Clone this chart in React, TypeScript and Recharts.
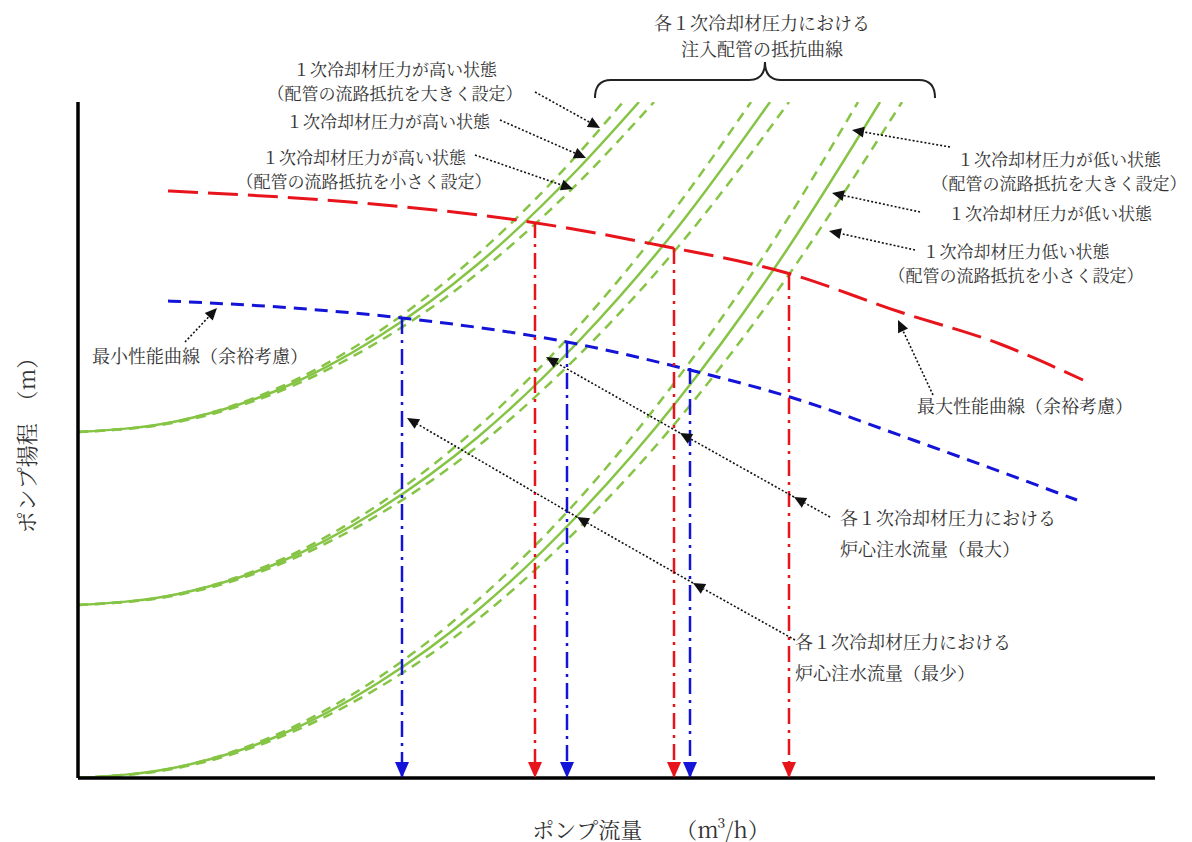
import React from 'react';
import { ComposedChart, Line, XAxis, YAxis, ReferenceLine, ReferenceDot } from 'recharts';

// schematic chart: flow (m3/h) and head (m) in arbitrary units, no tick values

// 注入配管の抵抗曲線 : 1次冷却材圧力が高い状態
const highQ = [0, 100, 200, 300, 400, 500];
const highMid = [346, 357, 388, 441, 514, 609];
const highBig = [346, 357, 390, 446, 524, 624];
const highSmall = [346, 356, 386, 436, 505, 595];
const highEnds = [561, 545, 576]; // mid, big, small reach top of chart

// middle pressure
const midQ = [0, 100, 200, 300, 400, 500, 600];
const midMid = [173, 184, 215, 268, 341, 436, 551];
const midBig = [173, 184, 217, 273, 351, 451, 573];
const midSmall = [173, 183, 213, 263, 332, 422, 531];
const midEnds = [692, 673, 711];

// 1次冷却材圧力が低い状態
const lowQ = [0, 100, 200, 300, 400, 500, 600, 700];
const lowMid = [0, 11, 42, 95, 168, 263, 378, 515];
const lowBig = [0, 11, 44, 100, 178, 278, 400, 544];
const lowSmall = [0, 10, 40, 90, 159, 249, 358, 488];
const lowEnds = [802, 780, 824];
const topHead = 676;
const maxFlowAxis = 1077;

// 最大性能曲線 / 最小性能曲線
const maxQ = [90, 272, 439, 585, 709, 822, 922, 1005];
const maxH = [587, 576, 558, 532, 505, 466, 434, 398];
const minQ = [90, 215, 324, 489, 612, 712, 835, 999];
const minH = [477, 470, 460, 436, 408, 381, 338, 278];

// 炉心注水流量 (最大 = red, 最少 = blue)
const maxFlowQ = [457, 596, 711];
const maxFlowTop = [556, 530, 504];
const minFlowQ = [324, 489, 612];
const minFlowTop = [460, 436, 410];

const titleLines = ['各１次冷却材圧力における', '注入配管の抵抗曲線'];
const highBigText = ['１次冷却材圧力が高い状態', '（配管の流路抵抗を大きく設定）'];
const highMidText = ['１次冷却材圧力が高い状態'];
const highSmallText = ['１次冷却材圧力が高い状態', '（配管の流路抵抗を小さく設定）'];
const lowBigText = ['１次冷却材圧力が低い状態', '（配管の流路抵抗を大きく設定）'];
const lowMidText = ['１次冷却材圧力が低い状態'];
const lowSmallText = ['１次冷却材圧力低い状態', '（配管の流路抵抗を小さく設定）'];
const minCurveText = ['最小性能曲線（余裕考慮）'];
const maxCurveText = ['最大性能曲線（余裕考慮）'];
const maxFlowText = ['各１次冷却材圧力における', '炉心注水流量（最大）'];
const minFlowText = ['各１次冷却材圧力における', '炉心注水流量（最少）'];
const xLabel = 'ポンプ流量　　（m³/h）';
const yLabel = 'ポンプ揚程　（m）';

const GREEN = '#86c445';
const RED = '#e8141c';
const BLUE = '#1414d8';
const FONT = "'Noto Serif CJK JP', 'Noto Sans CJK JP', sans-serif";

const zip = (qs: number[], hs: number[], endQ?: number) => {
  const rows = qs.map((q, i) => ({ q, h: hs[i] }));
  if (endQ !== undefined) rows.push({ q: endQ, h: topHead });
  return rows;
};

const vertical = (q: number, top: number) => [{ q, h: top }, { q, h: 0 }];

const textShape = (lines: string[], size: number, anchor: string, gap: number) => (p: any) => (
  <g>
    {lines.map((t, i) => (
      <text key={i} x={p.cx} y={p.cy + i * gap} textAnchor={anchor} dominantBaseline="central"
        fontSize={size} fill="#333" fontFamily={FONT}>{t}</text>
    ))}
  </g>
);

const rotatedText = (t: string) => (p: any) => (
  <text x={p.cx} y={p.cy} transform={`rotate(-90, ${p.cx}, ${p.cy})`} textAnchor="middle"
    dominantBaseline="central" fontSize={22} fill="#333" fontFamily={FONT}>{t}</text>
);

const arrowShape = (p: any) => {
  const { x1, y1, x2, y2 } = p;
  const a = Math.atan2(y2 - y1, x2 - x1);
  const bx = x2 - 12 * Math.cos(a);
  const by = y2 - 12 * Math.sin(a);
  const nx = -Math.sin(a) * 5.5;
  const ny = Math.cos(a) * 5.5;
  return (
    <g>
      <line x1={x1} y1={y1} x2={bx} y2={by} stroke="#111" strokeWidth={1.6} strokeDasharray="2 2" />
      <polygon points={`${x2},${y2} ${bx + nx},${by + ny} ${bx - nx},${by - ny}`} fill="#111" />
    </g>
  );
};

const braceShape = (p: any) => {
  const { x1, x2, y1 } = p;
  const m = (x1 + x2) / 2;
  const d = `M${x1},${y1} Q${x1},${y1 - 18} ${x1 + 16},${y1 - 18} L${m - 16},${y1 - 18} Q${m},${y1 - 18} ${m},${y1 - 36} Q${m},${y1 - 18} ${m + 16},${y1 - 18} L${x2 - 16},${y1 - 18} Q${x2},${y1 - 18} ${x2},${y1}`;
  return <path d={d} fill="none" stroke="#222" strokeWidth={2} />;
};

const arrowDot = (color: string) => (p: any) =>
  p.index === 1 ? (
    <polygon key={`d${p.index}`} points={`${p.cx - 7},${p.cy - 16} ${p.cx + 7},${p.cy - 16} ${p.cx},${p.cy}`} fill={color} />
  ) : (
    <g key={`d${p.index}`} />
  );

const note = (q: number, h: number, lines: string[], size = 17, anchor = 'middle', gap = 24) => (
  <ReferenceDot key={`${q}-${h}`} x={q} y={h} r={0} ifOverflow="visible" shape={textShape(lines, size, anchor, gap)} />
);

const arrow = (q1: number, h1: number, q2: number, h2: number) => (
  <ReferenceLine key={`${q1}-${h1}-${q2}`} segment={[{ x: q1, y: h1 }, { x: q2, y: h2 }]} ifOverflow="visible" shape={arrowShape} />
);

export default function App() {
  const greens = [
    { d: zip(highQ, highMid, highEnds[0]), dash: undefined },
    { d: zip(highQ, highBig, highEnds[1]), dash: '10 7' },
    { d: zip(highQ, highSmall, highEnds[2]), dash: '10 7' },
    { d: zip(midQ, midMid, midEnds[0]), dash: undefined },
    { d: zip(midQ, midBig, midEnds[1]), dash: '10 7' },
    { d: zip(midQ, midSmall, midEnds[2]), dash: '10 7' },
    { d: zip(lowQ, lowMid, lowEnds[0]), dash: undefined },
    { d: zip(lowQ, lowBig, lowEnds[1]), dash: '10 7' },
    { d: zip(lowQ, lowSmall, lowEnds[2]), dash: '10 7' },
  ];

  return (
    <div style={{ position: 'absolute', left: 0, top: 0, background: '#fff' }}>
      <ComposedChart width={1192} height={842} margin={{ top: 102, right: 37, bottom: 64, left: 78 }}>
        <XAxis type="number" dataKey="q" domain={[0, maxFlowAxis]} allowDataOverflow height={0}
          tick={false} tickLine={false} axisLine={false} />
        <YAxis type="number" dataKey="h" domain={[0, topHead]} allowDataOverflow width={0}
          tick={false} tickLine={false} axisLine={false} />

        {greens.map((g, i) => (
          <Line key={`g${i}`} data={g.d} dataKey="h" type="monotone" stroke={GREEN} strokeWidth={2.5}
            strokeDasharray={g.dash} dot={false} isAnimationActive={false} />
        ))}

        <Line data={zip(maxQ, maxH)} dataKey="h" type="monotone" stroke={RED} strokeWidth={3}
          strokeDasharray="30 10" dot={false} isAnimationActive={false} />
        <Line data={zip(minQ, minH)} dataKey="h" type="monotone" stroke={BLUE} strokeWidth={3}
          strokeDasharray="13 8" dot={false} isAnimationActive={false} />

        {maxFlowQ.map((q, i) => (
          <Line key={`r${i}`} data={vertical(q, maxFlowTop[i])} dataKey="h" type="linear" stroke={RED}
            strokeWidth={2.5} strokeDasharray="16 6 3 6" dot={arrowDot(RED)} isAnimationActive={false} />
        ))}
        {minFlowQ.map((q, i) => (
          <Line key={`b${i}`} data={vertical(q, minFlowTop[i])} dataKey="h" type="linear" stroke={BLUE}
            strokeWidth={2.5} strokeDasharray="16 6 3 6" dot={arrowDot(BLUE)} isAnimationActive={false} />
        ))}

        {/* axes */}
        <ReferenceLine segment={[{ x: 0, y: 0 }, { x: maxFlowAxis, y: 0 }]} ifOverflow="visible" stroke="#000" strokeWidth={3.5} />
        <ReferenceLine segment={[{ x: 0, y: 0 }, { x: 0, y: topHead }]} ifOverflow="visible" stroke="#000" strokeWidth={3.5} />

        {/* top bracket and title */}
        <ReferenceLine segment={[{ x: 517, y: 680 }, { x: 857, y: 680 }]} ifOverflow="visible" shape={braceShape} />
        {note(684, 756, titleLines, 18, 'middle', 26)}

        {/* left annotations: high pressure */}
        {note(317, 710, highBigText)}
        {arrow(457, 686, 522, 650)}
        {note(310, 658, highMidText)}
        {arrow(422, 658, 508, 620)}
        {note(286, 622, highSmallText)}
        {arrow(397, 623, 495, 589)}

        {/* right annotations: low pressure */}
        {note(981, 620, lowBigText)}
        {arrow(872, 631, 774, 648)}
        {note(972, 566, lowMidText)}
        {arrow(842, 566, 754, 585)}
        {note(938, 528, lowSmallText)}
        {arrow(837, 528, 751, 547)}

        {/* performance curve labels */}
        {note(122, 423, minCurveText, 18)}
        {arrow(107, 436, 139, 470)}
        {note(947, 373, maxCurveText, 18)}
        {arrow(855, 383, 820, 458)}

        {/* injection flow labels */}
        {note(762, 261, maxFlowText, 18, 'start', 31)}
        {arrow(752, 261, 716, 281)}
        {arrow(716, 281, 602, 345)}
        {arrow(602, 345, 468, 421)}
        {note(717, 137, minFlowText, 18, 'start', 31)}
        {arrow(717, 138, 615, 195)}
        {arrow(615, 195, 499, 261)}
        {arrow(499, 261, 329, 360)}

        {/* axis titles */}
        <ReferenceDot x={573} y={-50} r={0} ifOverflow="visible" shape={textShape([xLabel], 22, 'middle', 0)} />
        <ReferenceDot x={-53} y={338} r={0} ifOverflow="visible" shape={rotatedText(yLabel)} />
      </ComposedChart>
    </div>
  );
}
